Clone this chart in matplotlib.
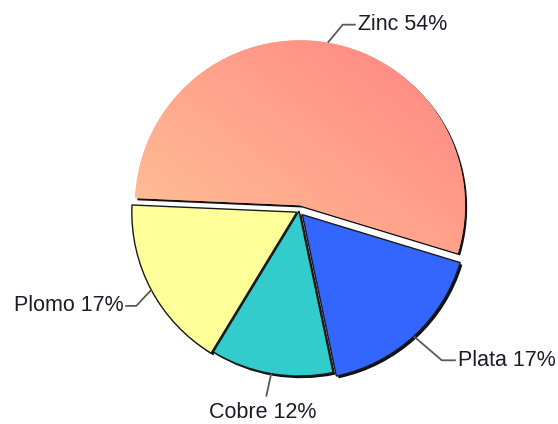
import numpy as np
import matplotlib.pyplot as plt
from matplotlib.patches import Wedge
from matplotlib.colors import LinearSegmentedColormap

# metal production shares
labels = ['Zinc', 'Plata', 'Cobre', 'Plomo']
shares = [54, 17, 12, 17]
colors = ['#FFA888', '#3366FF', '#33CCCC', '#FFFF99']
explode = [0.035, 0.03, 0.0, 0.015]

# leader layout, in pixels relative to the wedge anchor: (elbow, text)
leader = {
    'Zinc': ((15, 18), (30, 18), 'left'),
    'Plata': ((28, -24), (44, -24), 'left'),
    'Cobre': ((-5, -23), (-9, -39), 'center'),
    'Plomo': ((-15, -16), (-28, -16), 'right'),
}

plt.rcParams['font.family'] = ['Liberation Sans', 'DejaVu Sans']

R_PX = 165.0  # pie radius in pixels
px = 1.0 / R_PX

fig = plt.figure(figsize=(5.58, 4.24), dpi=100)
ax = fig.add_axes([0, 0, 1, 1])

wedges, _ = ax.pie(shares, explode=explode, colors=colors, startangle=177.5,
                   counterclock=False, radius=1.0,
                   wedgeprops=dict(edgecolor='#1a1a1a', linewidth=1.0))
ax.set_aspect('equal')
ax.axis('off')

# drop shadows behind each slice
for w in wedges:
    cx, cy = w.center
    sh = Wedge((cx + 2.2 * px, cy - 2.2 * px), w.r, w.theta1, w.theta2,
               facecolor='#111111', edgecolor='none', zorder=0.5)
    ax.add_patch(sh)

# gradient fill for the big slice
zinc = wedges[0]
zinc.set_edgecolor('none')
cmap = LinearSegmentedColormap.from_list('zinc', ['#FFC898', '#FF8080'])
gx, gy = np.meshgrid(np.linspace(-1.1, 1.1, 200), np.linspace(-0.4, 1.1, 200))
grad = gx * 0.6 + gy * 0.8
img = ax.imshow(grad, extent=(-1.1, 1.1, -0.4, 1.1), origin='lower',
                cmap=cmap, zorder=1.5, interpolation='bilinear')
img.set_clip_path(zinc)
ax.set_xlim(-299 * px, 259 * px)
ax.set_ylim(-213 * px, 211 * px)

# labels with leader lines
for w, name, val in zip(wedges, labels, shares):
    mid = np.deg2rad((w.theta1 + w.theta2) / 2)
    cx, cy = w.center
    ax0, ay0 = cx + np.cos(mid), cy + np.sin(mid)
    (ex, ey), (tx, ty), ha = leader[name]
    xs = [ax0, ax0 + ex * px]
    ys = [ay0, ay0 + ey * px]
    if ha == 'left':
        xs.append(ax0 + (tx - 2) * px)
        ys.append(ay0 + ty * px)
    elif ha == 'right':
        xs.append(ax0 + (tx + 2) * px)
        ys.append(ay0 + ty * px)
    ax.plot(xs, ys, color='#5a5a5a', lw=1.3, zorder=3, solid_capstyle='butt')
    ax.text(ax0 + tx * px, ay0 + ty * px, f'{name} {val}%', ha=ha,
            va='center', fontsize=15.5, color='#1c1c28', zorder=4)

fig.savefig('out.png', dpi=100)
